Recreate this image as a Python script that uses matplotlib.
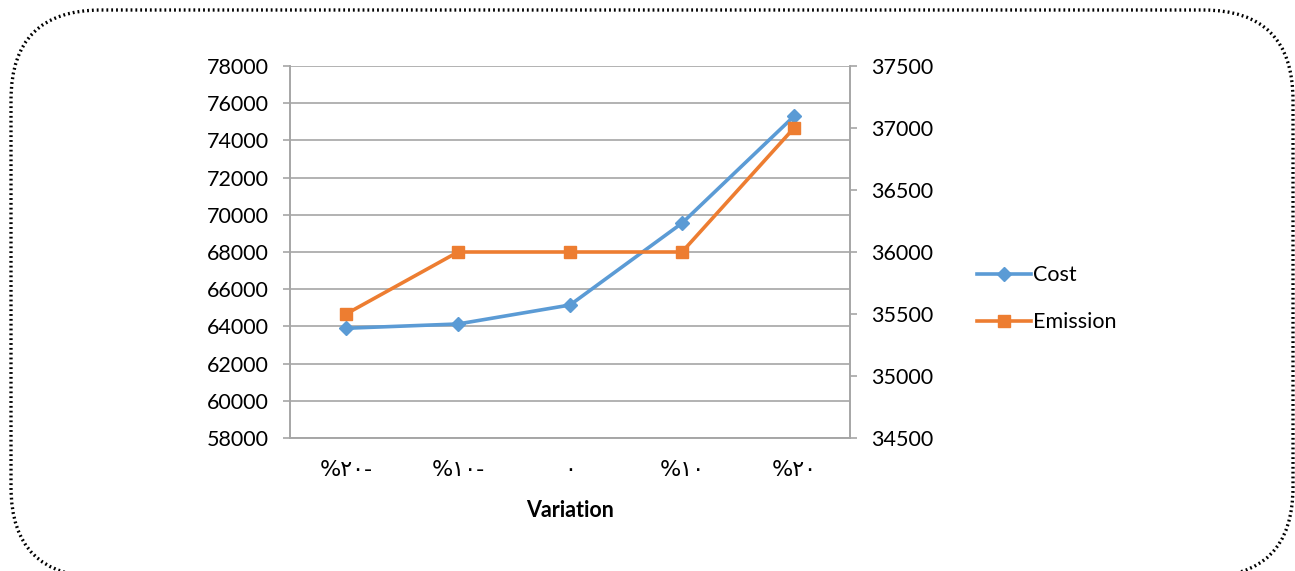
import matplotlib
matplotlib.use("Agg")
import matplotlib.pyplot as plt
from matplotlib.patches import FancyBboxPatch
from matplotlib.transforms import IdentityTransform

plt.rcParams['font.family'] = ['Lato', 'DejaVu Sans']

# Data
variation_labels = ["%٢٠-", "%١٠-", "٠", "%١٠", "%٢٠"]
cost = [63900, 64130, 65150, 69550, 75300]
emission = [35500, 36000, 36000, 36000, 37000]

left_ticks = list(range(58000, 78001, 2000))
right_ticks = list(range(34500, 37501, 500))

W, H, DPI = 1295, 571, 100
fig = plt.figure(figsize=(W / DPI, H / DPI), dpi=DPI)

ax = fig.add_axes([290 / W, (H - 438) / H, 560 / W, 372 / H])
ax2 = ax.twinx()

grid_c = "#A6A6A6"
blue = "#5B9BD5"
orange = "#ED7D31"

x = list(range(len(variation_labels)))
l1, = ax.plot(x, cost, color=blue, lw=2.6, marker="D", ms=7, label="Cost", zorder=3)
l2, = ax2.plot(x, emission, color=orange, lw=2.6, marker="s", ms=8.5, label="Emission", zorder=3)

ax.set_xlim(-0.5, 4.5)
ax.set_ylim(58000, 78000)
ax2.set_ylim(34500, 37500)
ax.set_yticks(left_ticks)
ax2.set_yticks(right_ticks)
ax.set_xticks(x)
ax.set_xticklabels(variation_labels, family=['DejaVu Sans'], fontsize=16)

ax.yaxis.grid(True, color=grid_c, lw=1.2)
ax.set_axisbelow(True)

for a in (ax, ax2):
    for s in a.spines.values():
        s.set_color(grid_c)
        s.set_linewidth(1.2)
    a.spines['top'].set_visible(False)
    a.tick_params(axis='y', colors=grid_c, length=5, width=1.2, labelcolor="black",
                  labelsize=15.5, pad=10)
ax.tick_params(axis='x', length=0, pad=16)

ax.set_xlabel("Variation", fontsize=15.5, fontweight="bold", labelpad=14)

leg = fig.legend([l1, l2], ["Cost", "Emission"], loc="upper left",
                 bbox_to_anchor=(958 / W, 1 - 246 / H), frameon=False,
                 fontsize=15.5, handlelength=2.5, labelspacing=1.25, handletextpad=0.1)

border = FancyBboxPatch((11, -6), 1282, 567,
                        boxstyle="round,pad=0,rounding_size=90",
                        transform=IdentityTransform(), fill=False,
                        edgecolor="black", lw=2.4, linestyle=(0, (0.55, 0.9)))
fig.patches.append(border)

fig.savefig("out.png", dpi=DPI)
